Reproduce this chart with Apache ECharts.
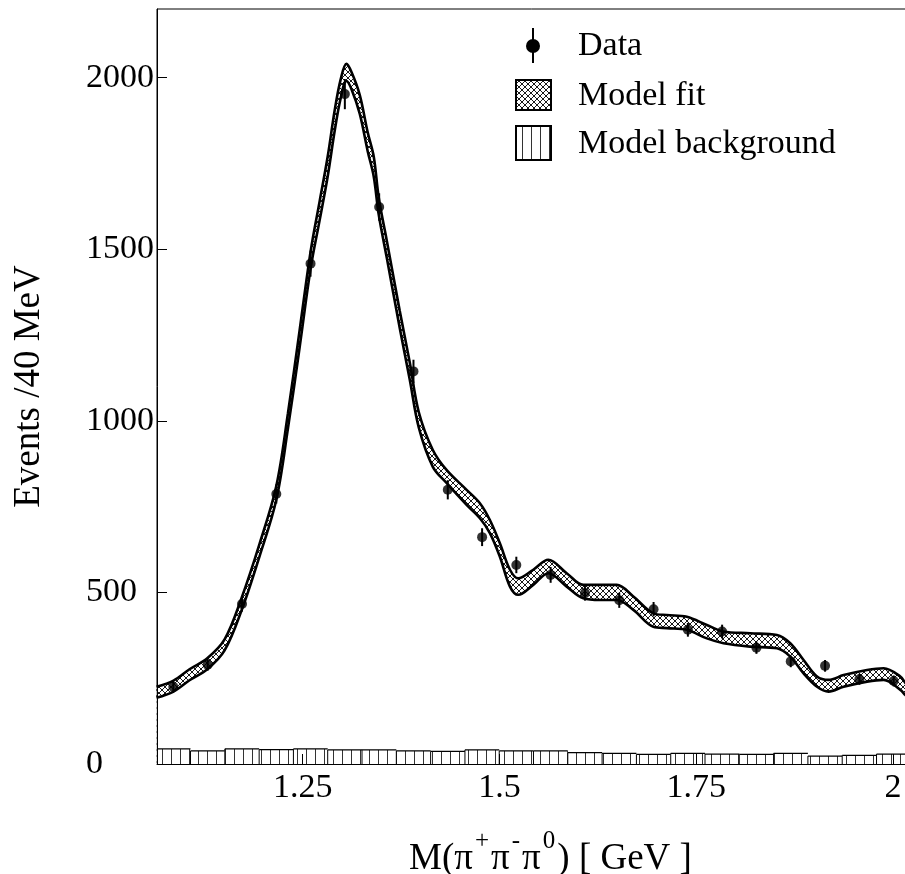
<!DOCTYPE html>
<html>
<head>
<meta charset="utf-8">
<script src="https://cdn.jsdelivr.net/npm/echarts@6/dist/echarts.min.js"></script>
<style>
html,body{margin:0;padding:0;background:#fff;}
#chart{width:905px;height:874px;}
</style>
</head>
<body>
<div id="chart"></div>
<script>
// ---- Data ----
const dataX = [1.0856,1.1293,1.1729,1.2165,1.2600,1.3036,1.3472,1.3908,1.4344,1.4780,1.5215,
               1.5651,1.6087,1.6523,1.6959,1.7395,1.7830,1.8266,1.8702,1.9138,1.9574,2.0010];
const dataY = [225,289,466,787,1458,1952,1623,1144,799,661,580,
               551,498,477,451,391,386,339,299,286,247,242];
const dataErr = [15,17,22,28,38,44,40,34,28,26,24,
                 23,22,22,21,20,20,18,17,17,16,16];

const fitX = [1.0643,1.0859,1.1062,1.1288,1.1508,1.1724,1.1953,1.2165,1.2313,1.2462,1.2602,1.2716,
              1.2818,1.2907,1.2983,1.3056,1.3123,1.3225,1.3327,1.3403,1.3467,1.3569,1.3734,1.3861,
              1.3976,1.4154,1.4328,1.4583,1.4752,1.4879,1.5006,1.5134,1.5239,1.5430,1.5621,1.5855,
              1.6066,1.6279,1.6491,1.6702,1.6957,1.7127,1.7382,1.7636,1.7847,1.8187,1.8527,1.8696,
              1.8865,1.9036,1.9183,1.9374,1.9672,1.9883,2.0095,2.0159,2.0230];
const fitUpper = [225,243,276,308,363,484,642,810,1022,1265,1495,1640,
                  1770,1905,1995,2040,2015,1950,1840,1770,1650,1525,1320,1170,
                  1025,915,857,799,760,711,643,566,541,566,595,556,
                  522,522,522,488,439,434,429,405,386,381,376,352,
                  303,255,245,259,274,279,255,236,222];
const fitLower = [193,211,244,276,331,448,606,770,978,1215,1445,1585,
                  1712,1845,1940,1990,1965,1895,1785,1712,1600,1475,1270,1120,
                  980,866,819,755,716,673,604,517,493,522,556,517,
                  483,478,478,449,400,396,391,366,352,342,337,313,
                  264,225,211,225,240,245,216,201,188];

const bkgVal = [44,38,44,42,44,41,41,38,37,41,38,
                38,33,31,28,31,29,28,31,23,25,29];

const xTicks = [1.25,1.5,1.75,2];
const legendNames = ['Data','Model fit','Model background'];

// ---- patterns ----
function crossHatch(){
  const c=document.createElement('canvas'); c.width=6; c.height=6;
  const g=c.getContext('2d'); g.fillStyle='#fff'; g.fillRect(0,0,6,6);
  g.strokeStyle='#000'; g.lineWidth=0.9;
  g.beginPath(); g.moveTo(0,0); g.lineTo(6,6); g.moveTo(6,0); g.lineTo(0,6);
  g.moveTo(-3,3); g.lineTo(3,9); g.moveTo(3,-3); g.lineTo(9,3);
  g.moveTo(3,-3); g.lineTo(-3,3); g.moveTo(9,3); g.lineTo(3,9);
  g.stroke(); return c;
}
function vertHatch(){
  const c=document.createElement('canvas'); c.width=9; c.height=4;
  const g=c.getContext('2d'); g.fillStyle='#fff'; g.fillRect(0,0,9,4);
  g.fillStyle='#333'; g.fillRect(0,0,1,4); return c;
}
const crossPat = {image: crossHatch(), repeat:'repeat'};
const vertPat = {image: vertHatch(), repeat:'repeat'};

const FONT = '"Liberation Serif","Times New Roman",serif';

// derived tables
const fitLowerData = fitX.map((x,i)=>[x,fitLower[i]]);
const fitUpperData = fitX.map((x,i)=>[x,fitUpper[i]]);
const pointData = dataX.map((x,i)=>[x,dataY[i]]);
const errData = dataX.map((x,i)=>[x,dataY[i],dataErr[i]]);
const bkgData = dataX.map((x,i)=>{
  const lo = i===0 ? x-(dataX[1]-dataX[0])/2 : (dataX[i-1]+x)/2;
  const hi = i===dataX.length-1 ? x+(x-dataX[i-1])/2 : (x+dataX[i+1])/2;
  return [lo,hi,bkgVal[i]];
});

const chart = echarts.init(document.getElementById('chart'), null, {renderer:'canvas'});
chart.setOption({
  animation:false,
  backgroundColor:'#fff',
  grid:{left:157, top:9, width:751, height:755, show:true, borderColor:'#000', borderWidth:1,
        backgroundColor:'transparent', containLabel:false, outerBoundsMode:'none'},
  xAxis:{
    type:'value', min:1.0649, max:2.0192, z:10,
    axisLine:{lineStyle:{color:'#000',width:1}},
    splitLine:{show:false},
    axisTick:{inside:true,length:10,lineStyle:{color:'#000'},customValues:xTicks},
    axisLabel:{customValues:xTicks,color:'#000',fontFamily:FONT,fontSize:34,margin:7,
      formatter:v=>String(v)},
    name:'{t|M(π}{s|+}{t|π}{s|-}{t|π}{s|0}{t|) [ GeV ]}',
    nameLocation:'middle', nameGap:65,
    nameTextStyle:{color:'#000',fontFamily:FONT,fontSize:37,padding:[0,0,0,36],
      rich:{t:{fontFamily:FONT,fontSize:37,lineHeight:60,color:'#000'},
            s:{fontFamily:FONT,fontSize:25,lineHeight:24,verticalAlign:'top',color:'#000',padding:[0,2,0,2]}}}
  },
  yAxis:{
    type:'value', min:0, max:2200, interval:500, z:10,
    axisLine:{show:true,lineStyle:{color:'#000',width:1}},
    splitLine:{show:false},
    axisTick:{inside:true,length:10,lineStyle:{color:'#000'}},
    axisLabel:{color:'#000',fontFamily:FONT,fontSize:34,align:'left',margin:71,
      showMaxLabel:false, formatter:v=>String(v)},
    name:'Events /40 MeV', nameLocation:'middle', nameGap:109,
    nameTextStyle:{color:'#000',fontFamily:FONT,fontSize:37}
  },
  series:[
    {
      type:'line', name:'Model fit', data:fitUpperData,
      smooth:0.35, showSymbol:false, symbol:'none', z:2,
      lineStyle:{color:'#000',width:2.6},
      areaStyle:{color:crossPat,opacity:1,origin:'start'}
    },
    {
      type:'line', name:'fitLower', data:fitLowerData,
      smooth:0.35, showSymbol:false, symbol:'none', z:3,
      lineStyle:{color:'#000',width:2.6},
      areaStyle:{color:'#fff',opacity:1,origin:'start'}
    },
    {
      type:'custom', name:'Model background', clip:true, z:4,
      data:bkgData,
      renderItem:(params,api)=>{
        const p1=api.coord([api.value(0),api.value(2)]);
        const p2=api.coord([api.value(1),0]);
        return {type:'group',children:[
          {type:'rect',shape:{x:p1[0],y:p1[1],width:p2[0]-p1[0],height:p2[1]-p1[1]},
           style:{fill:vertPat,stroke:null}},
          {type:'line',shape:{x1:p1[0],y1:p1[1],x2:p2[0],y2:p1[1]},style:{stroke:'#000',lineWidth:1.2}},
          {type:'line',shape:{x1:p1[0],y1:p1[1],x2:p1[0],y2:p2[1]},style:{stroke:'#000',lineWidth:1}}
        ]};
      }
    },
    {
      type:'custom', name:'errors', z:5, data:errData,
      renderItem:(params,api)=>{
        const a=api.coord([api.value(0),api.value(1)+api.value(2)]);
        const b=api.coord([api.value(0),api.value(1)-api.value(2)]);
        return {type:'line',shape:{x1:a[0],y1:a[1],x2:b[0],y2:b[1]},style:{stroke:'#000',lineWidth:2}};
      }
    },
    {
      type:'scatter', name:'Data', data:pointData, z:6,
      symbol:'circle', symbolSize:10, itemStyle:{color:'#000'}
    }
  ],
  graphic:[
    {type:'line',shape:{x1:533,y1:28,x2:533,y2:63},style:{stroke:'#000',lineWidth:2}},
    {type:'circle',shape:{cx:533,cy:46,r:7},style:{fill:'#000'}},
    {type:'rect',shape:{x:516,y:80,width:35,height:30},style:{fill:crossPat,stroke:'#000',lineWidth:2}},
    {type:'rect',shape:{x:516,y:126,width:35,height:34},style:{fill:vertPat,stroke:'#000',lineWidth:2}},
    {type:'text',x:578,y:46,style:{text:legendNames[0],font:'34px '+FONT,fill:'#000',verticalAlign:'middle'}},
    {type:'text',x:578,y:96,style:{text:legendNames[1],font:'34px '+FONT,fill:'#000',verticalAlign:'middle'}},
    {type:'text',x:578,y:144,style:{text:legendNames[2],font:'34px '+FONT,fill:'#000',verticalAlign:'middle'}}
  ]
});
</script>
</body>
</html>
